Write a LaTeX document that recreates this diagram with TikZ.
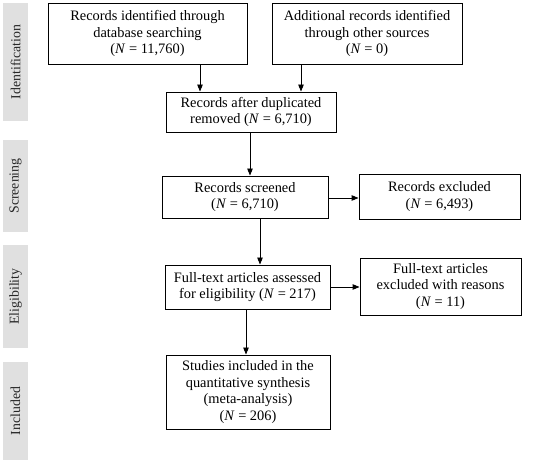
\documentclass[tikz,border=0pt]{standalone}
\usepackage{fontspec}
\setmainfont{Liberation Serif}
\usetikzlibrary{arrows.meta}
\begin{document}
\begin{tikzpicture}[x=1pt,y=-1pt,
  box/.style={draw=black,line width=0.9pt,align=center,inner sep=0pt,
    font=\fontsize{14.4}{16.7}\selectfont},
  phase/.style={fill=black!12,draw=none,inner sep=0pt},
  plabel/.style={rotate=90,font=\fontsize{13.8}{15}\selectfont,text=black!85},
  arr/.style={line width=0.9pt,-{Triangle[length=7pt,width=5.5pt]}}]
\useasboundingbox (0,0) rectangle (536,462);
% phase bars
\node[phase,minimum width=25pt,minimum height=118pt] (p1) at (15.5,62) {};
\node[plabel] (t1) at (p1.center) {Identification};
\node[phase,minimum width=25pt,minimum height=92pt] (p2) at (15.5,186) {};
\node[plabel] (t2) at (p2.center) {Screening};
\node[phase,minimum width=25pt,minimum height=103pt] (p3) at (15.5,296.5) {};
\node[plabel] (t3) at (p3.center) {Eligibility};
\node[phase,minimum width=25pt,minimum height=98pt] (p4) at (15.5,411) {};
\node[plabel] (t4) at (p4.center) {Included};
% boxes
\node[box,minimum width=199pt,minimum height=61pt] (b1) at (147.5,33.5)
  {Records identified through\\database searching\\(\textit{N} = 11,760)};
\node[box,minimum width=190pt,minimum height=61pt] (b2) at (367,33.5)
  {Additional records identified\\through other sources\\(\textit{N} = 0)};
\node[box,minimum width=170pt,minimum height=40pt] (b3) at (251,112)
  {Records after duplicated\\removed (\textit{N} = 6,710)};
\node[box,minimum width=166pt,minimum height=42pt] (b4) at (245,197)
  {Records screened\\(\textit{N} = 6,710)};
\node[box,minimum width=161pt,minimum height=45pt] (b5) at (439.5,196.5)
  {Records excluded\\(\textit{N} = 6,493)};
\node[box,minimum width=165pt,minimum height=44pt] (b6) at (247.5,287)
  {Full-text articles assessed\\for eligibility (\textit{N} = 217)};
\node[box,minimum width=161pt,minimum height=57pt] (b7) at (440.5,286.5)
  {Full-text articles\\excluded with reasons\\(\textit{N} = 11)};
\node[box,minimum width=164pt,minimum height=74pt] (b8) at (248,392)
  {Studies included in the\\quantitative synthesis\\(meta-analysis)\\(\textit{N} = 206)};
% arrows
\draw[arr] (200,0 |- b1.south) -- (200,0 |- b3.north);
\draw[arr] (301,0 |- b2.south) -- (301,0 |- b3.north);
\draw[arr] (250,0 |- b3.south) -- (250,0 |- b4.north);
\draw[arr] (b4.east |- 0,198) -- (b5.west |- 0,198);
\draw[arr] (260,0 |- b4.south) -- (260,0 |- b6.north);
\draw[arr] (b6.east |- 0,287) -- (b7.west |- 0,287);
\draw[arr] (246,0 |- b6.south) -- (246,0 |- b8.north);
\end{tikzpicture}
\end{document}
